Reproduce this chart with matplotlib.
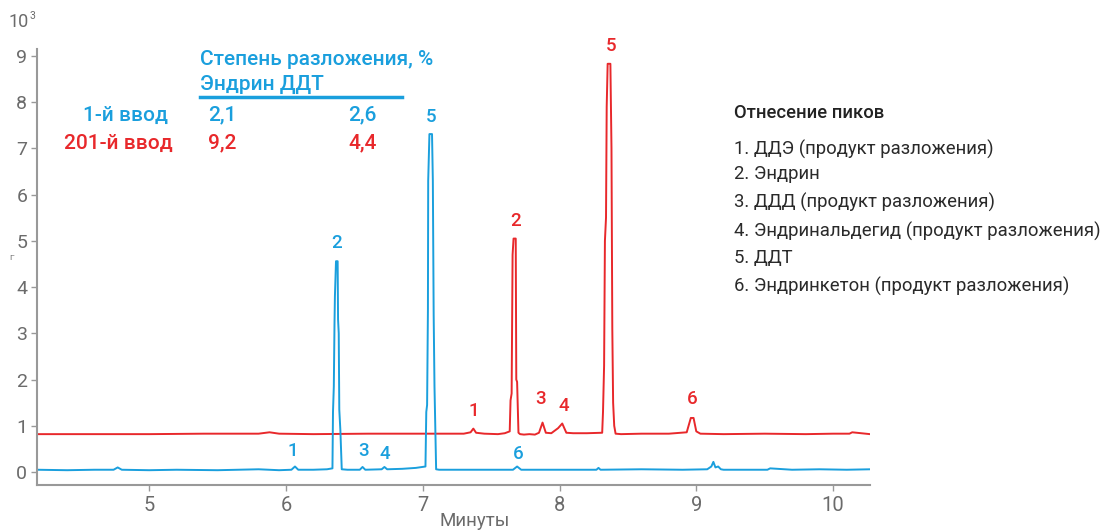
import matplotlib
matplotlib.use("Agg")
import matplotlib.pyplot as plt

plt.rcParams['font.family'] = ['Roboto', 'DejaVu Sans']

BLUE = '#1a9fdd'
RED = '#e8282b'
GREY = '#6b6b6b'

# 1-й ввод (blue trace), время в минутах, сигнал x10^3
t_blue = [4.18, 4.40, 4.60, 4.74, 4.77, 4.80, 5.00, 5.20, 5.50, 5.80, 5.95, 6.04,
          6.066, 6.09, 6.20, 6.30, 6.340, 6.344, 6.350, 6.355, 6.358, 6.366, 6.378,
          6.381, 6.386, 6.390, 6.398, 6.408, 6.45, 6.54, 6.56, 6.58, 6.70, 6.72,
          6.74, 6.85, 6.95, 7.020, 7.026, 7.032, 7.038, 7.040, 7.049, 7.056, 7.068,
          7.074, 7.080, 7.086, 7.098, 7.12, 7.30, 7.50, 7.66, 7.69, 7.72, 7.90,
          8.10, 8.27, 8.285, 8.30, 8.60, 8.90, 9.08, 9.11, 9.125, 9.14, 9.16,
          9.18, 9.20, 9.40, 9.52, 9.54, 9.70, 9.90, 10.10, 10.27]
y_blue = [0.05, 0.04, 0.05, 0.05, 0.10, 0.05, 0.04, 0.05, 0.04, 0.06, 0.04, 0.05,
          0.12, 0.05, 0.05, 0.06, 0.08, 1.30, 1.85, 3.20, 3.80, 4.56, 4.56,
          3.30, 3.00, 1.35, 0.90, 0.06, 0.05, 0.05, 0.11, 0.05, 0.06, 0.11,
          0.06, 0.07, 0.09, 0.12, 1.30, 1.45, 3.50, 6.30, 7.31, 7.31, 7.31,
          6.30, 3.40, 1.85, 0.06, 0.05, 0.05, 0.05, 0.05, 0.12, 0.05, 0.05,
          0.05, 0.05, 0.09, 0.05, 0.06, 0.05, 0.06, 0.12, 0.22, 0.10, 0.12,
          0.06, 0.05, 0.05, 0.05, 0.08, 0.05, 0.06, 0.05, 0.06]

# 201-й ввод (red trace)
t_red = [4.18, 4.60, 5.00, 5.40, 5.80, 5.88, 5.95, 6.20, 6.60, 7.00, 7.30, 7.35,
         7.37, 7.39, 7.45, 7.55, 7.60, 7.636, 7.642, 7.650, 7.657, 7.664, 7.680,
         7.684, 7.690, 7.700, 7.712, 7.74, 7.78, 7.82, 7.85, 7.876, 7.90, 7.94,
         7.99, 8.02, 8.05, 8.10, 8.20, 8.312, 8.318, 8.326, 8.332, 8.340, 8.345,
         8.352, 8.372, 8.380, 8.386, 8.392, 8.400, 8.410, 8.45, 8.60, 8.80, 8.93,
         8.96, 8.98, 9.00, 9.03, 9.20, 9.50, 9.80, 10.00, 10.12, 10.14, 10.27]
y_red = [0.82, 0.82, 0.82, 0.83, 0.83, 0.86, 0.83, 0.82, 0.83, 0.83, 0.83, 0.86,
         0.94, 0.85, 0.83, 0.82, 0.84, 0.88, 1.55, 1.70, 4.70, 5.05, 5.05,
         2.00, 1.95, 0.85, 0.82, 0.81, 0.82, 0.81, 0.85, 1.07, 0.85, 0.84,
         0.95, 1.05, 0.85, 0.84, 0.84, 0.85, 1.30, 2.30, 5.00, 5.50, 7.90,
         8.83, 8.83, 7.00, 3.10, 1.50, 1.00, 0.83, 0.82, 0.83, 0.83, 0.86,
         1.17, 1.17, 0.88, 0.83, 0.82, 0.83, 0.82, 0.83, 0.83, 0.86, 0.82]

# номера пиков: (время, высота подписи)
blue_labels = ['1', '2', '3', '4', '5', '6']
blue_lbl_t = [6.05, 6.37, 6.57, 6.72, 7.06, 7.70]
blue_lbl_y = [0.45, 4.95, 0.45, 0.38, 7.68, 0.38]
red_labels = ['1', '2', '3', '4', '5', '6']
red_lbl_t = [7.37, 7.68, 7.86, 8.03, 8.38, 8.97]
red_lbl_y = [1.32, 5.43, 1.58, 1.42, 9.22, 1.58]

x_ticks = [5, 6, 7, 8, 9, 10]
y_ticks = [0, 1, 2, 3, 4, 5, 6, 7, 8, 9]

assign_title = 'Отнесение пиков'
assignments = ['1. ДДЭ (продукт разложения)',
               '2. Эндрин',
               '3. ДДД (продукт разложения)',
               '4. Эндринальдегид (продукт разложения)',
               '5. ДДТ',
               '6. Эндринкетон (продукт разложения)']

rows = ['1-й ввод', '201-й ввод']
endrin = ['2,1', '9,2']
ddt = ['2,6', '4,4']

fig = plt.figure(figsize=(11.03, 5.32), dpi=100)
ax = fig.add_axes([37 / 1103, 47 / 532, (870 - 37) / 1103, (485 - 49) / 532])

ax.plot(t_red, y_red, color=RED, lw=1.4)
ax.plot(t_blue, y_blue, color=BLUE, lw=1.4)

for s, t, y in zip(blue_labels, blue_lbl_t, blue_lbl_y):
    ax.text(t, y, s, color=BLUE, fontsize=13.5, fontweight='medium', ha='center', va='center')
for s, t, y in zip(red_labels, red_lbl_t, red_lbl_y):
    ax.text(t, y, s, color=RED, fontsize=13.5, fontweight='medium', ha='center', va='center')

ax.set_xlim(4.18, 10.27)
ax.set_ylim(-0.28, 9.15)
ax.set_xticks(x_ticks)
ax.set_yticks(y_ticks)
ax.tick_params(axis='x', colors=GREY, labelsize=14.5, length=4, width=1, color='#999999', pad=4)
ax.tick_params(axis='y', colors=GREY, labelsize=14, length=4, width=1, color='#999999', pad=3)
for side in ['top', 'right']:
    ax.spines[side].set_visible(False)
for side in ['left', 'bottom']:
    ax.spines[side].set_color('#999999')
    ax.spines[side].set_linewidth(1.5)

def fx(px):
    return px / 1103

def fy(py):
    return 1 - py / 532

fig.text(fx(475), fy(521), 'Минуты', color=GREY, fontsize=13.5, ha='center', va='center')

fig.text(fx(9), fy(22), '10', color=GREY, fontsize=13, va='center')
fig.text(fx(30), fy(16), '3', color=GREY, fontsize=7.5, va='center')
fig.text(fx(9), fy(258), 'Г', color=GREY, fontsize=6, va='center')

fig.text(fx(200), fy(60), 'Степень разложения, %', color=BLUE, fontsize=15,
         fontweight='medium', va='center')
fig.text(fx(200), fy(84), 'Эндрин ДДТ', color=BLUE, fontsize=15,
         fontweight='medium', va='center')
fig.add_artist(plt.Line2D([fx(200), fx(402)], [fy(97), fy(97)], color=BLUE, lw=2.5))

row_y = [115, 143]
row_right = [168, 173]
row_col = [BLUE, RED]
for name, e, d, py, pr, c in zip(rows, endrin, ddt, row_y, row_right, row_col):
    fig.text(fx(pr), fy(py), name, color=c, fontsize=15, fontweight='medium',
             ha='right', va='center')
    fig.text(fx(208), fy(py), e, color=c, fontsize=15, fontweight='medium', va='center')
    fig.text(fx(348), fy(py), d, color=c, fontsize=15, fontweight='medium', va='center')

fig.text(fx(734), fy(113), assign_title, color='#222222', fontsize=13.3,
         fontweight='medium', va='center')
item_y = [149, 174, 202, 231, 258, 286]
for s, py in zip(assignments, item_y):
    fig.text(fx(734), fy(py), s, color='#2a2a2a', fontsize=13.3, va='center')

fig.savefig('out.png', dpi=100)
